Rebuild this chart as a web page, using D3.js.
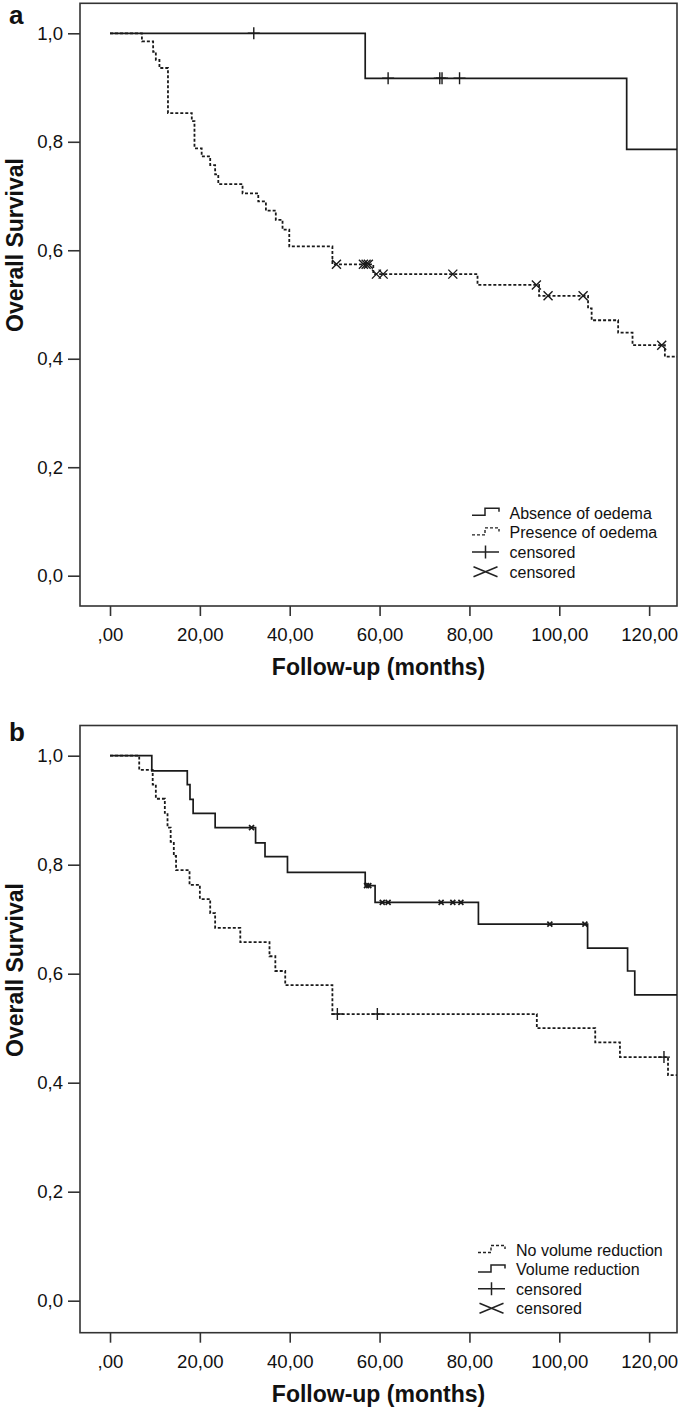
<!DOCTYPE html>
<html><head><meta charset="utf-8">
<script src="https://cdn.jsdelivr.net/npm/d3@7"></script>
<style>body{margin:0;background:#fff} svg{display:block} text{font-family:"Liberation Sans",Arial,sans-serif;fill:#111}</style>
</head><body><svg id="c" width="685" height="1410"></svg>
<script>
// ---- shared axis data ----
const xTicks = [0, 20, 40, 60, 80, 100, 120];
const xTickLabels = [",00", "20,00", "40,00", "60,00", "80,00", "100,00", "120,00"];
const yTicks = [0, 0.2, 0.4, 0.6, 0.8, 1.0];
const yTickLabels = ["0,0", "0,2", "0,4", "0,6", "0,8", "1,0"];
const xTitle = "Follow-up (months)";
const yTitle = "Overall Survival";

// ---- panel a ----
const aAbsenceTime = [0, 56.8, 115.0, 126.2];
const aAbsenceSurv = [1.0, 0.917, 0.786, 0.786];
const aAbsenceCensor = [32.0, 61.9, 73.4, 73.9, 77.8];

const aPresenceTime = [0, 7.1, 9.6, 10.2, 11.0, 12.9, 18.2, 18.8, 20.4, 22.3, 23.4, 24.1, 29.5, 33.0, 34.7, 36.9, 38.4, 39.9, 49.5, 58.6, 81.8, 95.5, 106.4, 107.2, 113.1, 116.3, 123.5, 126.2];
const aPresenceSurv = [1.0, 0.985, 0.966, 0.951, 0.936, 0.853, 0.838, 0.788, 0.773, 0.757, 0.740, 0.722, 0.705, 0.690, 0.673, 0.656, 0.638, 0.607, 0.574, 0.556, 0.536, 0.516, 0.493, 0.471, 0.448, 0.425, 0.404, 0.404];
const aPresenceCensor = [50.4, 56.4, 57.0, 57.5, 59.3, 60.8, 76.3, 94.9, 97.5, 105.3, 122.8];

const aLegendLabels = ["Absence of oedema", "Presence of oedema", "censored", "censored"];

// ---- panel b ----
const bNoRedTime = [0, 6.5, 9.5, 10.2, 12.2, 12.8, 13.5, 14.2, 14.7, 17.7, 20.0, 22.3, 23.4, 29.0, 35.5, 36.8, 39.0, 49.5, 95.0, 108.0, 113.5, 124.2, 126.2];
const bNoRedSurv = [1.0, 0.974, 0.947, 0.921, 0.895, 0.868, 0.842, 0.816, 0.790, 0.763, 0.737, 0.711, 0.684, 0.658, 0.632, 0.605, 0.579, 0.526, 0.500, 0.474, 0.447, 0.414, 0.414];
const bNoRedCensor = [50.6, 59.5, 123.3];

const bRedTime = [0, 9.3, 17.2, 17.8, 18.5, 23.4, 32.4, 34.5, 39.5, 56.8, 59.0, 82.0, 106.3, 115.2, 116.8, 126.2];
const bRedSurv = [1.0, 0.972, 0.947, 0.920, 0.894, 0.868, 0.840, 0.815, 0.786, 0.7615, 0.731, 0.691, 0.647, 0.605, 0.561, 0.561];
const bRedCensor = [31.5, 57.1, 57.6, 60.6, 61.9, 73.7, 76.3, 78.1, 97.9, 105.7];

const bLegendLabels = ["No volume reduction", "Volume reduction", "censored", "censored"];

// ---- drawing ----
const svg = d3.select("#c");
const FONT = '"Liberation Sans", Arial, sans-serif';
const INK = "#1a1a1a";

function stepPoints(times, surv) { return times.map((t, i) => [t, surv[i]]); }
function survAt(times, surv, t) {
  let v = surv[0];
  for (let i = 0; i < times.length; i++) if (times[i] <= t) v = surv[i];
  return v;
}

function drawPanel(cfg) {
  const g = svg.append("g");
  const x = d3.scaleLinear().domain([-6.68, 126.2]).range([80, 677]);
  const y = d3.scaleLinear().domain([0, 1]).range([cfg.y0, cfg.y1]);
  const top = cfg.top, bottom = cfg.bottom;

  // panel letter
  g.append("text").attr("x", 9).attr("y", cfg.letterY).text(cfg.letter)
    .style("font-size", "26px").style("font-weight", "bold");

  // axes
  const yAx = g.append("g").attr("transform", "translate(80,0)")
    .call(d3.axisLeft(y).tickValues(yTicks).tickSize(12).tickPadding(5)
      .tickFormat((d, i) => yTickLabels[i]));
  const xAx = g.append("g").attr("transform", `translate(0,${bottom})`)
    .call(d3.axisBottom(x).tickValues(xTicks).tickSize(10).tickPadding(12)
      .tickFormat((d, i) => xTickLabels[i]));
  [yAx, xAx].forEach(a => {
    a.select(".domain").remove();
    a.selectAll("line").attr("stroke", "#333").attr("stroke-width", 1.6);
    a.selectAll("text").style("font-size", "18.6px").style("font-family", FONT).attr("fill", "#111");
  });

  // frame
  g.append("rect").attr("x", 80).attr("y", top).attr("width", 597).attr("height", bottom - top)
    .attr("fill", "none").attr("stroke", "#333").attr("stroke-width", 1.6);

  // titles
  g.append("text").attr("x", 378.5).attr("y", bottom + 69).attr("text-anchor", "middle")
    .text(xTitle).style("font-size", "23px").style("font-weight", "bold");
  g.append("text").attr("transform", `translate(23,${cfg.yTitleC}) rotate(-90)`).attr("text-anchor", "middle")
    .text(yTitle).style("font-size", "23px").style("font-weight", "bold");

  const line = d3.line().x(d => x(d[0])).y(d => y(d[1])).curve(d3.curveStepAfter);

  cfg.series.forEach(s => {
    g.append("path").datum(stepPoints(s.time, s.surv)).attr("d", line)
      .attr("fill", "none").attr("stroke", INK).attr("stroke-width", s.dashed ? 1.8 : 1.7)
      .attr("stroke-dasharray", s.dashed ? "3,2" : null);
  });
  cfg.series.forEach(s => {
    s.censor.forEach(t => {
      const cx = x(t), cy = y(survAt(s.time, s.surv, t));
      const p = d3.path();
      if (s.mark === "plus") {
        p.moveTo(cx - 6, cy); p.lineTo(cx + 6, cy);
        p.moveTo(cx, cy - 6); p.lineTo(cx, cy + 6);
      } else {
        const r = s.markR;
        p.moveTo(cx - r, cy - r); p.lineTo(cx + r, cy + r);
        p.moveTo(cx - r, cy + r); p.lineTo(cx + r, cy - r);
      }
      g.append("path").attr("d", p.toString()).attr("stroke", INK)
        .attr("stroke-width", s.markW).attr("fill", "none");
    });
  });

  // legend
  const L = cfg.legend;
  L.items.forEach((it, i) => {
    const cy = L.y + i * L.dy;
    const sx = L.x;
    const p = d3.path();
    if (it === "solid" || it === "dashed") {
      p.moveTo(sx, cy + 2.5); p.lineTo(sx + 13, cy + 2.5); p.lineTo(sx + 13, cy - 4.5);
      p.lineTo(sx + 27, cy - 4.5); p.lineTo(sx + 27, cy - 1);
    } else if (it === "plus") {
      p.moveTo(sx, cy); p.lineTo(sx + 27, cy);
      p.moveTo(sx + 13.5, cy - 6.5); p.lineTo(sx + 13.5, cy + 6.5);
    } else {
      p.moveTo(sx + 1.5, cy - 5); p.lineTo(sx + 25.5, cy + 5);
      p.moveTo(sx + 1.5, cy + 5); p.lineTo(sx + 25.5, cy - 5);
    }
    g.append("path").attr("d", p.toString()).attr("fill", "none").attr("stroke", "#222")
      .attr("stroke-width", it === "dashed" ? 1.4 : 1.5).attr("stroke-dasharray", it === "dashed" ? "3,2" : null);
    g.append("text").attr("x", sx + L.tx).attr("y", cy + 5.8).text(L.labels[i])
      .style("font-size", "16px");
  });
}

drawPanel({
  letter: "a", letterY: 24, top: 3.3, bottom: 606, y0: 575.7, y1: 33.3, yTitleC: 245,
  series: [
    { time: aPresenceTime, surv: aPresenceSurv, censor: aPresenceCensor, dashed: true, mark: "cross", markR: 4.5, markW: 1.4 },
    { time: aAbsenceTime, surv: aAbsenceSurv, censor: aAbsenceCensor, dashed: false, mark: "plus", markW: 1.4 }
  ],
  legend: { x: 472, y: 512.7, dy: 19.7, tx: 37.5, labels: aLegendLabels, items: ["solid", "dashed", "plus", "cross"] }
});

drawPanel({
  letter: "b", letterY: 741, top: 725.5, bottom: 1332.7, y0: 1300.7, y1: 755.7, yTitleC: 970,
  series: [
    { time: bNoRedTime, surv: bNoRedSurv, censor: bNoRedCensor, dashed: true, mark: "plus", markW: 1.4 },
    { time: bRedTime, surv: bRedSurv, censor: bRedCensor, dashed: false, mark: "cross", markR: 2.5, markW: 1.7 }
  ],
  legend: { x: 478, y: 1250, dy: 19.4, tx: 38, labels: bLegendLabels, items: ["dashed", "solid", "plus", "cross"] }
});
</script>
</body></html>
